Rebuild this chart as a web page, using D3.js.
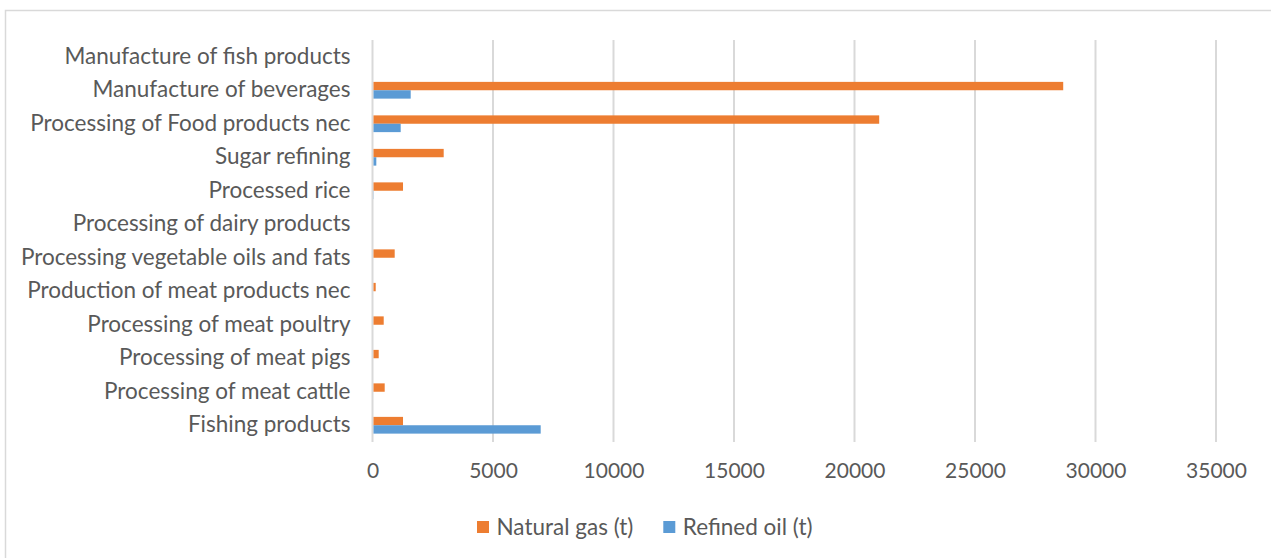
<!DOCTYPE html>
<html>
<head>
<meta charset="utf-8">
<script src="https://cdn.jsdelivr.net/npm/d3@7"></script>
<style>
  html, body { margin: 0; padding: 0; background: #ffffff; }
  svg { display: block; }
  text { font-family: Lato, "Open Sans", sans-serif; fill: #595959; }
</style>
</head>
<body>
<svg id="chart" width="1271" height="558"></svg>
<script>
// Sectors, listed from the bottom row upward
const categories = [
  "Fishing products",
  "Processing of meat cattle",
  "Processing of meat pigs",
  "Processing of meat poultry",
  "Production of meat products nec",
  "Processing vegetable oils and fats",
  "Processing of dairy products",
  "Processed rice",
  "Sugar refining",
  "Processing of Food products nec",
  "Manufacture of beverages",
  "Manufacture of fish products"
];
const naturalGas = [1266, 506, 257, 465, 133, 921, 0, 1266, 2954, 21025, 28660, 0];
const refinedOil = [6979, 0, 0, 0, 0, 10, 0, 50, 158, 1170, 1585, 0];
const seriesNames = ["Natural gas (t)", "Refined oil (t)"];
const seriesColors = ["#ed7d31", "#5b9bd5"];
const xTicks = [0, 5000, 10000, 15000, 20000, 25000, 30000, 35000];

const FONT = 'Lato, "Open Sans", sans-serif';
const svg = d3.select("#chart");

// Chart frame
svg.append("rect")
  .attr("x", 5.5).attr("y", 10.5)
  .attr("width", 1300).attr("height", 600)
  .attr("fill", "none").attr("stroke", "#d9d9d9").attr("stroke-width", 1.5);

const plot = { left: 372.5, right: 1216, top: 40, bottom: 442 };

const x = d3.scaleLinear().domain([0, 35000]).range([plot.left, plot.right]);
const y = d3.scaleBand()
  .domain(categories.slice().reverse())
  .range([plot.top, plot.bottom])
  .paddingInner(0.5).paddingOuter(0.25);
const ySeries = d3.scaleBand().domain(seriesNames).range([0, y.bandwidth()]);

// Vertical gridlines
svg.append("g")
  .selectAll("line")
  .data(xTicks)
  .join("line")
  .attr("x1", d => x(d)).attr("x2", d => x(d))
  .attr("y1", plot.top).attr("y2", plot.bottom)
  .attr("stroke", "#d9d9d9").attr("stroke-width", 2);

// Bars
const rows = categories.map((c, i) => ({ cat: c, values: [naturalGas[i], refinedOil[i]] }));
const groups = svg.append("g")
  .selectAll("g")
  .data(rows)
  .join("g")
  .attr("transform", d => `translate(0,${y(d.cat)})`);

groups.selectAll("rect")
  .data(d => d.values.map((v, k) => ({ v, k })))
  .join("rect")
  .attr("x", x(0) + 1)
  .attr("y", d => ySeries(seriesNames[d.k]))
  .attr("width", d => Math.max(0, x(d.v) - x(0) - (d.v > 0 ? 1 : 0)))
  .attr("height", ySeries.bandwidth())
  .attr("fill", d => seriesColors[d.k]);

// Category axis labels
const yAxis = d3.axisLeft(y).tickSize(0).tickPadding(22);
const yG = svg.append("g").attr("transform", `translate(${plot.left},0)`).call(yAxis);
yG.select(".domain").remove();
yG.selectAll("text")
  .style("font-size", "22.5px")
  .style("fill", "#595959")
  .style("font-family", FONT);

// Value axis labels
const xAxis = d3.axisBottom(x).tickValues(xTicks).tickSize(0).tickPadding(21).tickFormat(d3.format("d"));
const xG = svg.append("g").attr("transform", `translate(0,${plot.bottom})`).call(xAxis);
xG.select(".domain").remove();
xG.selectAll("text")
  .style("font-size", "21px")
  .style("fill", "#595959")
  .style("font-family", FONT);

// Legend
const legend = svg.append("g").attr("transform", "translate(477,527)");
let lx = 0;
seriesNames.forEach((name, k) => {
  const item = legend.append("g").attr("transform", `translate(${lx},0)`);
  item.append("rect").attr("x", 0).attr("y", -6).attr("width", 12).attr("height", 12).attr("fill", seriesColors[k]);
  const t = item.append("text").attr("x", 19.5).attr("dy", "0.35em")
    .style("font-size", "22.5px").style("font-family", FONT).text(name);
  lx += 19.5 + t.node().getComputedTextLength() + 30;
});
</script>
</body>
</html>
